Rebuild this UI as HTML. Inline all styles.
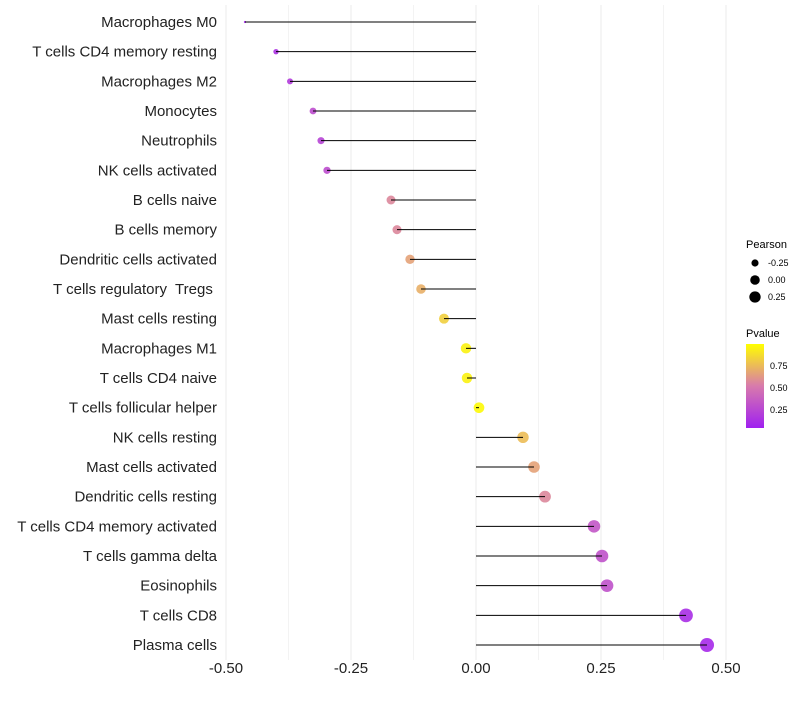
<!DOCTYPE html>
<html><head><meta charset="utf-8"><style>
body{margin:0;background:#fff;font-family:"Liberation Sans",sans-serif}
text{white-space:pre}
</style></head><body>
<svg id="chart" width="800" height="700" xmlns="http://www.w3.org/2000/svg" font-family="Liberation Sans, sans-serif"></svg>
<script>
const categories=["Macrophages M0","T cells CD4 memory resting","Macrophages M2","Monocytes","Neutrophils","NK cells activated","B cells naive","B cells memory","Dendritic cells activated","T cells regulatory  Tregs ","Mast cells resting","Macrophages M1","T cells CD4 naive","T cells follicular helper","NK cells resting","Mast cells activated","Dendritic cells resting","T cells CD4 memory activated","T cells gamma delta","Eosinophils","T cells CD8","Plasma cells"];
const pearson=[-0.462,-0.40,-0.372,-0.326,-0.31,-0.298,-0.17,-0.158,-0.132,-0.11,-0.064,-0.02,-0.018,0.006,0.094,0.116,0.138,0.236,0.252,0.262,0.42,0.462];
const pvalue=[0.03,0.1,0.15,0.25,0.2,0.25,0.55,0.55,0.65,0.7,0.82,0.95,0.95,0.98,0.75,0.65,0.55,0.3,0.28,0.28,0.08,0.05];
const xTicks=[-0.5,-0.25,0,0.25,0.5];
const xTickLabels=["-0.50","-0.25","0.00","0.25","0.50"];
const svg=document.getElementById('chart');
const NS="http://www.w3.org/2000/svg";
const x=v=>476+v*500;
const y=i=>22+i*(623/21);
const pmin=Math.min(...pearson),pmax=Math.max(...pearson);
const r=v=>1.17*(1+5*Math.sqrt(Math.max(0,(v-pmin)/(pmax-pmin))));
function lerp(a,b,t){return a.map((c,i)=>Math.round(c+(b[i]-c)*t));}
function col(p){const s0=[160,32,240],s1=[216,122,172],s2=[255,255,0];
 const c=p<0.5?lerp(s0,s1,p/0.5):lerp(s1,s2,(p-0.5)/0.5);return `rgb(${c.join(',')})`;}
function el(t,a){const e=document.createElementNS(NS,t);for(const k in a)e.setAttribute(k,a[k]);svg.appendChild(e);return e;}
for(let v=-0.5;v<=0.501;v+=0.125){const g=el('line',{x1:x(v),x2:x(v),y1:5,y2:660,stroke:'#ebebeb','stroke-width':Math.abs((v*4)%1)<1e-6?1:0.6});

}
xTicks.forEach((v,i)=>{const t=el('text',{x:x(v),y:673,'text-anchor':'middle','font-size':15,fill:'#222'});t.textContent=xTickLabels[i];

});
categories.forEach((c,i)=>{
 const t=el('text',{x:217,y:y(i)+5,'text-anchor':'end','font-size':15,fill:'#222'});t.textContent=c;
 
 
 const d=el('circle',{cx:x(pearson[i]),cy:y(i),r:r(pearson[i]),fill:col(pvalue[i]),'fill-opacity':0.9});
 
 
 const l=el('line',{x1:x(0),x2:x(pearson[i]),y1:y(i),y2:y(i),stroke:'#000','stroke-width':1});
 
 
});
const lt=el('text',{x:746,y:248,'font-size':11,fill:'#000'});lt.textContent='Pearson';


[[-0.25,263,"-0.25"],[0,280,"0.00"],[0.25,297,"0.25"]].forEach(a=>{
 const c=el('circle',{cx:755,cy:a[1],r:r(a[0])*0.9,fill:'#000'});
 
 
 const t=el('text',{x:768,y:a[1]+3,'font-size':9,fill:'#000'});t.textContent=a[2];
 
 });
const pt=el('text',{x:746,y:337,'font-size':11,fill:'#000'});pt.textContent='Pvalue';


const defs=el('defs',{});
const lg=document.createElementNS(NS,'linearGradient');lg.setAttribute('id','g');lg.setAttribute('x1','0');lg.setAttribute('y1','1');lg.setAttribute('x2','0');lg.setAttribute('y2','0');
[[0,0],[0.5,0.5],[1,1]].forEach(s=>{const st=document.createElementNS(NS,'stop');st.setAttribute('offset',s[0]);st.setAttribute('stop-color',col(s[1]));lg.appendChild(st);});
defs.appendChild(lg);
const cb=el('rect',{x:746,y:344,width:18,height:84,fill:'url(#g)'});


[[0.75,366],[0.5,388],[0.25,410]].forEach(a=>{const t=el('text',{x:770,y:a[1]+3,'font-size':9,fill:'#000'});t.textContent=a[0].toFixed(2);

});
</script>
</body></html>
